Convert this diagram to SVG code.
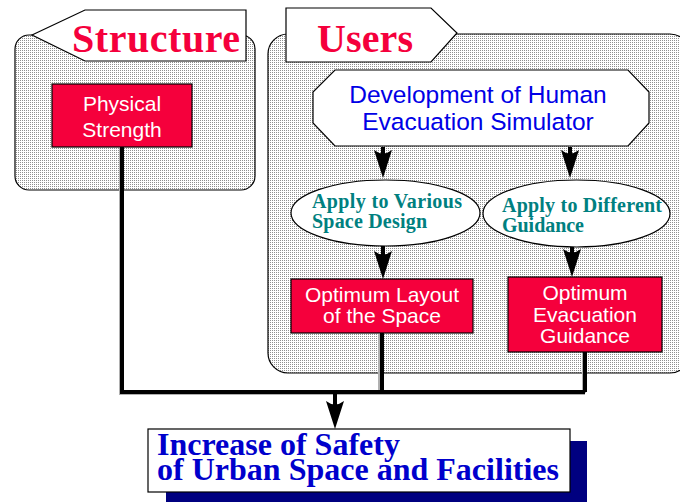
<svg xmlns="http://www.w3.org/2000/svg" width="680" height="502" viewBox="0 0 680 502">
  <defs>
    <!-- stipple fill for the two grouping panels -->
    <pattern id="stipple" width="2" height="2" patternUnits="userSpaceOnUse">
      <rect width="2" height="2" fill="#ffffff"/>
      <rect width="1" height="1" fill="#8f8f8f"/>
    </pattern>
    <!-- barbed arrowhead; tip sits 12px beyond the line end -->
    <marker id="barb" viewBox="-30 -10 44 20" refX="-12" refY="0" markerWidth="44" markerHeight="20" markerUnits="userSpaceOnUse" orient="auto">
      <path d="M0,0 L-28,-9 Q-21,0 -28,9 Z" fill="#000"/>
    </marker>
  </defs>
  <style>
    .panel { fill: url(#stipple); stroke: #000; stroke-width: 1.2; }
    .tab { fill: #fff; stroke: #000; stroke-width: 1.2; }
    .tabtext { font-family: "Liberation Serif", serif; font-weight: bold; font-size: 40px; fill: #f5003c; }
    .redbox { fill: #f5003c; stroke: #000; stroke-width: 1.2; }
    .redtext { font-family: "Liberation Sans", sans-serif; font-size: 21px; fill: #fff; text-anchor: middle; }
    .oval { fill: #fff; stroke: #000; stroke-width: 1.2; }
    .ovaltext { font-family: "Liberation Serif", serif; font-weight: bold; font-size: 20px; fill: #008080; }
    .wire { fill: none; stroke: #000; stroke-width: 4; }
    .wireshade { fill: none; stroke: #b0b0b0; stroke-width: 4; }
    .goal { font-family: "Liberation Serif", serif; font-weight: bold; font-size: 32px; fill: #0000cc; }
  </style>

  <!-- Structure panel -->
  <g id="structure">
    <rect class="panel" x="15" y="35" width="240" height="155" rx="14"/>
    <polygon class="tab" points="32,35 85,10 246,10 246,61 85,61"/>
    <text class="tabtext" x="72" y="52" textLength="168">Structure</text>
  </g>

  <!-- Users panel -->
  <g id="users">
    <rect class="panel" x="268" y="34" width="422" height="339" rx="20"/>
    <polygon class="tab" points="286,8 431,8 457,33 431,62 286,62"/>
    <text class="tabtext" x="317" y="52" textLength="96">Users</text>
  </g>

  <g id="physical-strength">
    <rect class="redbox" x="52" y="84" width="140" height="63"/>
    <text class="redtext" x="122" y="111" font-size="25">Physical</text>
    <text class="redtext" x="122" y="137" font-size="25">Strength</text>
  </g>

  <g id="simulator">
    <polygon fill="#fff" stroke="#000" stroke-width="1.2" points="335,70 628,70 649,92 649,123 628,146 335,146 313,123 313,92"/>
    <text font-family="Liberation Sans, sans-serif" font-size="24.5" fill="#0000e6" text-anchor="middle" x="478" y="103">Development of Human</text>
    <text font-family="Liberation Sans, sans-serif" font-size="24.5" fill="#0000e6" text-anchor="middle" x="478" y="130">Evacuation Simulator</text>
  </g>

  <g id="apply-space">
    <ellipse class="oval" cx="385.5" cy="213" rx="94.5" ry="33"/>
    <text class="ovaltext" x="312" y="208" textLength="150">Apply to Various</text>
    <text class="ovaltext" x="312" y="228" textLength="115">Space Design</text>
  </g>

  <g id="apply-guidance">
    <ellipse class="oval" cx="576.5" cy="213.5" rx="93.5" ry="33.5"/>
    <text class="ovaltext" x="502" y="212" textLength="160">Apply to Different</text>
    <text class="ovaltext" x="502" y="232" textLength="82">Guidance</text>
  </g>

  <g id="layout">
    <rect class="redbox" x="291" y="279" width="182" height="54"/>
    <text class="redtext" x="382" y="302">Optimum Layout</text>
    <text class="redtext" x="382" y="323">of the Space</text>
  </g>

  <g id="evac-guidance">
    <rect class="redbox" x="508" y="277" width="154" height="75"/>
    <text class="redtext" x="585" y="300">Optimum</text>
    <text class="redtext" x="585" y="322">Evacuation</text>
    <text class="redtext" x="585" y="343">Guidance</text>
  </g>

  <g id="safety">
    <rect x="166" y="441" width="421" height="70" fill="#000080"/>
    <rect x="148" y="429" width="422" height="63" fill="#fff" stroke="#000" stroke-width="1.2"/>
    <text class="goal" x="157" y="455">Increase of Safety</text>
    <text class="goal" x="157" y="480" textLength="402">of Urban Space and Facilities</text>
  </g>

  <!-- connectors -->
  <g id="connectors">
    <path class="wireshade" d="M121,148 V393 H585 M380,334 V393 M584,353 V393"/>
    <path class="wire" d="M122,147 V392 H585 M382,333 V392 M585,352 V392"/>
    <line class="wire" x1="383" y1="147" x2="383" y2="166" marker-end="url(#barb)"/>
    <line class="wire" x1="570" y1="147" x2="570" y2="166" marker-end="url(#barb)"/>
    <line class="wire" x1="383" y1="246" x2="383" y2="267" marker-end="url(#barb)"/>
    <line class="wire" x1="572" y1="247" x2="572" y2="265" marker-end="url(#barb)"/>
    <line class="wire" x1="335" y1="392" x2="335" y2="417" marker-end="url(#barb)"/>
  </g>
</svg>
